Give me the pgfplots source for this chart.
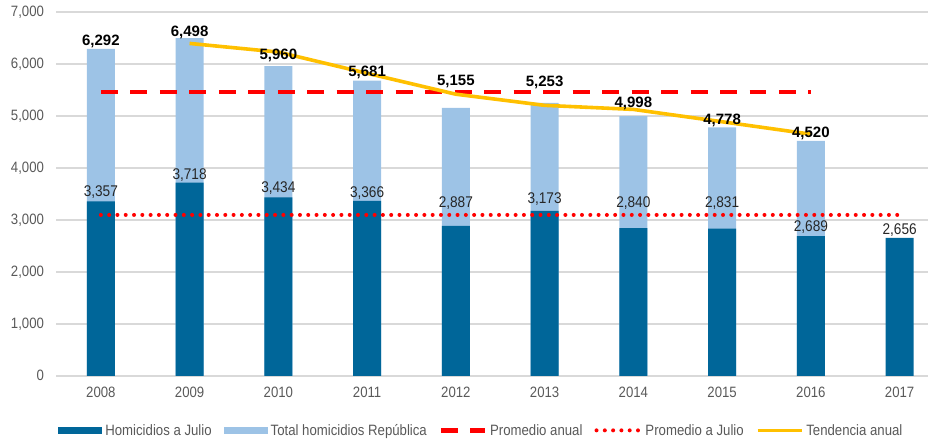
\documentclass[border=0pt]{standalone}
\usepackage{pgfplots}
\pgfplotsset{compat=1.18}
\usepackage{fontspec}
\setmainfont{Liberation Sans}
\newfontfamily\nf{Liberation Sans}[FakeStretch=0.88]

\definecolor{julio}{RGB}{0,102,153}
\definecolor{total}{RGB}{157,195,230}
\definecolor{promred}{RGB}{255,0,0}
\definecolor{tendyel}{RGB}{255,192,0}
\definecolor{gridgray}{RGB}{217,217,217}
\definecolor{ticktext}{RGB}{89,89,89}
\definecolor{labeltext}{RGB}{38,38,38}

\pgfplotsset{
  barimg/.style={legend image code/.code={\fill[##1] (0pt,-3.5pt) rectangle (44pt,3.5pt);}},
  lineimg/.style={legend image code/.code={\draw[##1] (0pt,0pt) -- (44pt,0pt);}},
}

\begin{document}
\begin{tikzpicture}
\begin{axis}[
  name=ax,
  scale only axis,
  width=872pt, height=364pt,
  xmin=-0.5, xmax=9.32,
  ymin=0, ymax=7000,
  ytick={0,1000,2000,3000,4000,5000,6000,7000},
  xtick={0,1,2,3,4,5,6,7,8,9},
  xticklabels={2008,2009,2010,2011,2012,2013,2014,2015,2016,2017},
  /pgf/number format/.cd, 1000 sep={,}, assume math mode=true,
  /pgfplots/.cd,
  axis line style={draw=none},
  major tick length=0pt,
  ymajorgrids,
  grid style={gridgray, line width=1.5pt},
  tick label style={font=\fontsize{15}{15}\selectfont\nf, text=ticktext},
  yticklabel style={anchor=east, xshift=-9pt},
  xticklabel style={anchor=north, yshift=-8pt},
  clip=false,
  legend columns=5,
  legend style={at={(0.487,-0.15)}, anchor=center, draw=none, fill=none,
    font=\fontsize{15}{15}\selectfont\nf, text=ticktext,
    nodes={inner xsep=1pt},
    /tikz/every odd column/.append style={column sep=2pt},
    /tikz/every even column/.append style={column sep=11pt}},
]
\addplot[ybar, bar width=28pt, bar shift=0pt, fill=total, draw=none, barimg, forget plot]
  coordinates {(0,6292) (1,6498) (2,5960) (3,5681) (4,5155) (5,5253) (6,4998) (7,4778) (8,4520)};
\addplot[ybar, bar width=28pt, bar shift=0pt, fill=julio, draw=none, barimg]
  coordinates {(0,3357) (1,3718) (2,3434) (3,3366) (4,2887) (5,3173) (6,2840) (7,2831) (8,2689) (9,2656)};
\addlegendentry{Homicidios a Julio}
\addlegendimage{barimg, fill=total, draw=none}
\addlegendentry{Total homicidios República}
\addplot[promred, line width=4.3pt, dash pattern=on 17pt off 12.5pt, lineimg]
  coordinates {(0,5459) (8,5459)};
\addlegendentry{Promedio anual}
\addplot[promred, line width=4pt, line cap=round, dash pattern=on 0pt off 8.3pt, lineimg]
  coordinates {(0,3095) (9,3095)};
\addlegendentry{Promedio a Julio}
\addplot[tendyel, line width=3.6pt, line join=round, lineimg]
  coordinates {(1,6395) (2,6229) (3,5820.5) (4,5418) (5,5204) (6,5125.5) (7,4888) (8,4649)};
\addlegendentry{Tendencia anual}

% etiquetas de totales
\begin{scope}[every node/.style={font=\fontsize{15}{15}\selectfont\bfseries, text=black}]
\node at (axis cs:0,6442) {6,292};
\node at (axis cs:1,6615) {6,498};
\node at (axis cs:2,6173) {5,960};
\node at (axis cs:3,5846) {5,681};
\node at (axis cs:4,5654) {5,155};
\node at (axis cs:5,5654) {5,253};
\node at (axis cs:6,5250) {4,998};
\node at (axis cs:7,4904) {4,778};
\node at (axis cs:8,4673) {4,520};
\end{scope}
% etiquetas a julio
\begin{scope}[every node/.style={font=\fontsize{15.5}{15}\selectfont\nf, text=labeltext}]
\node at (axis cs:0,3538) {3,357};
\node at (axis cs:1,3865) {3,718};
\node at (axis cs:2,3615) {3,434};
\node at (axis cs:3,3519) {3,366};
\node at (axis cs:4,3327) {2,887};
\node at (axis cs:5,3404) {3,173};
\node at (axis cs:6,3327) {2,840};
\node at (axis cs:7,3327) {2,831};
\node at (axis cs:8,2865) {2,689};
\node at (axis cs:9,2808) {2,656};
\end{scope}
\end{axis}
\pgfresetboundingbox
\path ([xshift=-56.5pt,yshift=-64pt]ax.south west) rectangle ([yshift=12pt]ax.north east);
\end{tikzpicture}
\end{document}
